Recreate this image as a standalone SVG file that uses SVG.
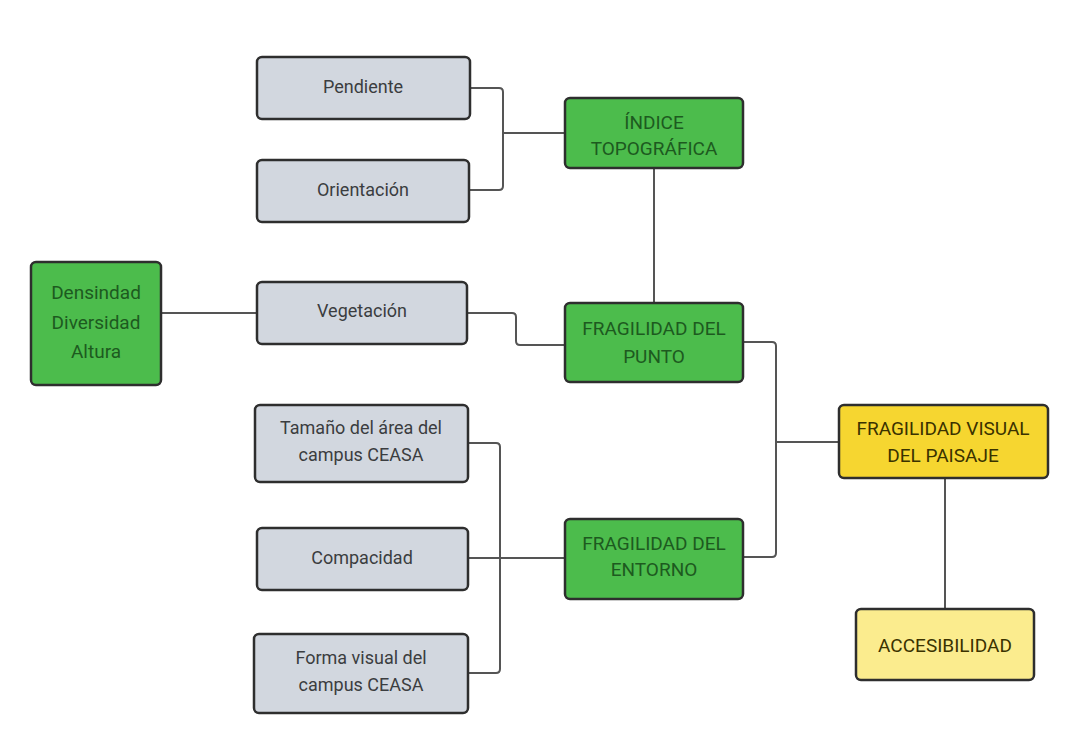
<svg xmlns="http://www.w3.org/2000/svg" width="1072" height="745" viewBox="0 0 1072 745">
<style>
.box{stroke:#2e2e2e;stroke-width:2.5}
.gray{fill:#d2d7df}
.green{fill:#4cbc4c}
.yellow{fill:#f6d630}
.lyellow{fill:#fbec8e}
text{font-family:Roboto,"Liberation Sans",sans-serif;font-size:18px;text-anchor:middle}
.tg{fill:#3b3d40}
.tgr{fill:#1d5a1f;font-size:19px}
.ty{fill:#3a3200;font-size:19px}
.conn{fill:none;stroke:#555;stroke-width:2}
</style>
<rect width="1072" height="745" fill="#ffffff"/>
<g id="connectors">
<path class="conn" d="M470,88 H499 Q503,88 503,92 V186 Q503,190 499,190 H470"/>
<path class="conn" d="M503,133 H565"/>
<path class="conn" d="M654,168 V303"/>
<path class="conn" d="M161,313 H257"/>
<path class="conn" d="M467,313 H512 Q516,313 516,317 V341 Q516,345 520,345 H565"/>
<path class="conn" d="M743,342 H772 Q776,342 776,346 V553 Q776,557 772,557 H743"/>
<path class="conn" d="M776,442 H839"/>
<path class="conn" d="M468,443 H496 Q500,443 500,447 V669 Q500,673 496,673 H468"/>
<path class="conn" d="M468,558 H565"/>
<path class="conn" d="M945,478 V609"/>
</g>
<g id="pendiente"><rect class="box gray" x="257" y="57" width="213" height="62" rx="5"/><text class="tg" x="363" y="93">Pendiente</text></g>
<g id="orientacion"><rect class="box gray" x="257" y="160" width="212" height="62" rx="5"/><text class="tg" x="363" y="196">Orientación</text></g>
<g id="indice"><rect class="box green" x="565" y="98" width="178" height="70" rx="5"/><text class="tgr" x="654" y="129">ÍNDICE</text><text class="tgr" x="654" y="155">TOPOGRÁFICA</text></g>
<g id="densidad"><rect class="box green" x="31" y="262" width="130" height="123" rx="5"/><text class="tgr" x="96" y="299">Densindad</text><text class="tgr" x="96" y="329">Diversidad</text><text class="tgr" x="96" y="358">Altura</text></g>
<g id="vegetacion"><rect class="box gray" x="257" y="282" width="210" height="62" rx="5"/><text class="tg" x="362" y="317">Vegetación</text></g>
<g id="punto"><rect class="box green" x="565" y="303" width="178" height="79" rx="5"/><text class="tgr" x="654" y="335">FRAGILIDAD DEL</text><text class="tgr" x="654" y="363">PUNTO</text></g>
<g id="tamano"><rect class="box gray" x="255" y="405" width="213" height="77" rx="5"/><text class="tg" x="361" y="434">Tamaño del área del</text><text class="tg" x="361" y="461">campus CEASA</text></g>
<g id="compacidad"><rect class="box gray" x="257" y="528" width="211" height="62" rx="5"/><text class="tg" x="362" y="564">Compacidad</text></g>
<g id="forma"><rect class="box gray" x="254" y="634" width="214" height="79" rx="5"/><text class="tg" x="361" y="664">Forma visual del</text><text class="tg" x="361" y="691">campus CEASA</text></g>
<g id="entorno"><rect class="box green" x="565" y="519" width="178" height="80" rx="5"/><text class="tgr" x="654" y="550">FRAGILIDAD DEL</text><text class="tgr" x="654" y="576">ENTORNO</text></g>
<g id="visual"><rect class="box yellow" x="839" y="405" width="209" height="73" rx="5"/><text class="ty" x="943" y="435">FRAGILIDAD VISUAL</text><text class="ty" x="943" y="462">DEL PAISAJE</text></g>
<g id="accesibilidad"><rect class="box lyellow" x="856" y="609" width="178" height="71" rx="5"/><text class="ty" x="945" y="652">ACCESIBILIDAD</text></g>
</svg>
